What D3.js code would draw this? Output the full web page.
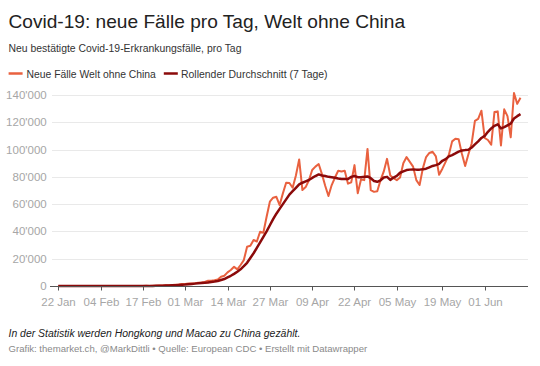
<!DOCTYPE html>
<html><head><meta charset="utf-8">
<script src="https://cdn.jsdelivr.net/npm/d3@7"></script>
<style>
body{margin:0;background:#fff;}
svg{display:block;font-family:"Liberation Sans", Arial, Helvetica, sans-serif;}
</style></head>
<body><svg id="c" width="540" height="366"></svg>
<script>
const startDate = "2020-01-22";
const newCases = [0,1,4,6,10,8,12,10,14,18,14,10,16,20,24,28,34,25,40,30,32,40,70,12,80,60,40,100,90,150,220,400,430,600,520,700,880,1100,1400,1500,1800,1900,2000,2300,2600,3000,3800,3900,4200,4800,6800,7500,10000,11700,14100,12200,15400,19000,28800,29500,33700,32600,39800,39000,50800,61800,64700,65400,59300,67900,75700,75500,72000,81000,92800,70300,72500,77500,85000,87500,89400,82000,73500,66000,74000,79500,84500,84000,84500,75000,76000,88600,68000,78000,77600,100500,70300,69000,69500,77600,84000,93200,81000,79000,77600,79500,90000,94500,91000,87500,77600,74000,86200,94500,97500,98400,95000,81500,86000,91000,96200,106000,108000,107500,97000,88000,96500,104500,121000,122500,128500,108500,107000,103500,127500,128000,103000,129500,124500,109000,141500,133500,138000];
const rollingAvg = [0,1,3,4,6,7,8,9,10,12,13,14,15,18,21,24,27,29,30,33,33,35,40,37,42,49,52,61,74,90,120,170,230,300,380,480,590,740,920,1100,1340,1540,1740,1950,2200,2420,2640,2960,3300,3700,4400,5100,6300,7500,8900,10500,12200,14500,17000,20500,24000,28000,32000,36000,40000,44500,49000,53000,56500,60000,63500,67000,69500,72000,74500,75700,76700,77700,79200,80600,81800,81000,80600,80000,79700,79300,78800,78400,78400,78400,80000,80600,79800,79800,80000,80300,79000,77000,76400,77500,79500,80000,77800,79500,80700,83000,84000,85000,85300,85400,85300,85300,85500,86000,87000,88000,88600,89500,91800,93000,95000,96000,97200,98500,99300,99600,99800,101500,103800,106000,108500,110000,113000,115500,117400,118500,115500,116500,117800,119000,122800,124500,126000];
const seriesNames = ["Neue Fälle Welt ohne China","Rollender Durchschnitt (7 Tage)"];
const yTicks = [0,20000,40000,60000,80000,100000,120000,140000];
const xTickDates = ["2020-01-22","2020-02-04","2020-02-17","2020-03-01","2020-03-14","2020-03-27","2020-04-09","2020-04-22","2020-05-05","2020-05-19","2020-06-01"];
const xTickLabels = ["22 Jan","04 Feb","17 Feb","01 Mar","14 Mar","27 Mar","09 Apr","22 Apr","05 May","19 May","01 Jun"];
const title = "Covid-19: neue Fälle pro Tag, Welt ohne China";
const subtitle = "Neu bestätigte Covid-19-Erkrankungsfälle, pro Tag";
const note = "In der Statistik werden Hongkong und Macao zu China gezählt.";
const source = "Grafik: themarket.ch, @MarkDittli • Quelle: European CDC • Erstellt mit Datawrapper";

const colors = ["#e9613f","#8b0a0a"];
const parse = d3.utcParse("%Y-%m-%d");
const t0 = parse(startDate);
const dates = newCases.map((_, i) => d3.utcDay.offset(t0, i));

const svg = d3.select("#c");
const x = d3.scaleUtc().domain([t0, d3.utcDay.offset(t0, 144)]).range([58.3, 527]);
const y = d3.scaleLinear().domain([0, 140000]).range([286, 95]);

// scale a text's font size so its rendered width matches the reference
function fit(sel, w) {
  const fs = +sel.attr("font-size");
  const cw = sel.node().getComputedTextLength();
  sel.attr("font-size", (fs * w / cw).toFixed(2));
  return sel;
}

fit(svg.append("text").attr("x", 8.5).attr("y", 28.3).attr("font-size", 21).attr("fill", "#222").text(title), 397);
fit(svg.append("text").attr("x", 8.5).attr("y", 52).attr("font-size", 12).attr("fill", "#333").text(subtitle), 233);

// legend
const lg = svg.append("g");
const legX = [[8.6, 26.5, 129.5], [163.8, 181, 146.6]];
seriesNames.forEach((n, i) => {
  lg.append("line").attr("x1", legX[i][0]).attr("x2", legX[i][0] + 14).attr("y1", 73.5).attr("y2", 73.5)
    .attr("stroke", colors[i]).attr("stroke-width", 2.5);
  fit(lg.append("text").attr("x", legX[i][1]).attr("y", 77.7).attr("font-size", 12).attr("fill", "#333").text(n), legX[i][2]);
});

// grid
const fmt = v => d3.format(",")(v).replace(/,/g, "'");
const g = svg.append("g");
yTicks.forEach(v => {
  if (v > 0) g.append("line").attr("x1", 52).attr("x2", 528).attr("y1", Math.round(y(v)) + 0.5).attr("y2", Math.round(y(v)) + 0.5).attr("stroke", "#e9e9e9").attr("stroke-width", 1);
  g.append("text").attr("x", 46.7).attr("y", y(v) + 4).attr("text-anchor", "end").attr("font-size", 11.5).attr("fill", "#a6a6a6").text(fmt(v));
});

// lines
const line = d3.line().x((d, i) => x(dates[i])).y(d => y(d));
svg.append("path").datum(newCases).attr("d", line).attr("fill", "none").attr("stroke", colors[0]).attr("stroke-width", 2).attr("stroke-linejoin", "round");
svg.append("path").datum(rollingAvg).attr("d", line).attr("fill", "none").attr("stroke", colors[1]).attr("stroke-width", 2.5).attr("stroke-linejoin", "round");

// x axis
svg.append("line").attr("x1", 50).attr("x2", 528).attr("y1", 286.5).attr("y2", 286.5).attr("stroke", "#555").attr("stroke-width", 1);
xTickDates.forEach((d, i) => {
  const xx = Math.round(x(parse(d))) + 0.5;
  svg.append("line").attr("x1", xx).attr("x2", xx).attr("y1", 286.5).attr("y2", 290.5).attr("stroke", "#555");
  svg.append("text").attr("x", xx).attr("y", 305.5).attr("text-anchor", "middle").attr("font-size", 11.5).attr("fill", "#a6a6a6").text(xTickLabels[i]);
});

fit(svg.append("text").attr("x", 8.5).attr("y", 337).attr("font-size", 12).attr("font-style", "italic").attr("fill", "#222").text(note), 292);
fit(svg.append("text").attr("x", 8.5).attr("y", 352).attr("font-size", 10.5).attr("fill", "#8a8a8a").text(source), 359);
</script></body></html>
